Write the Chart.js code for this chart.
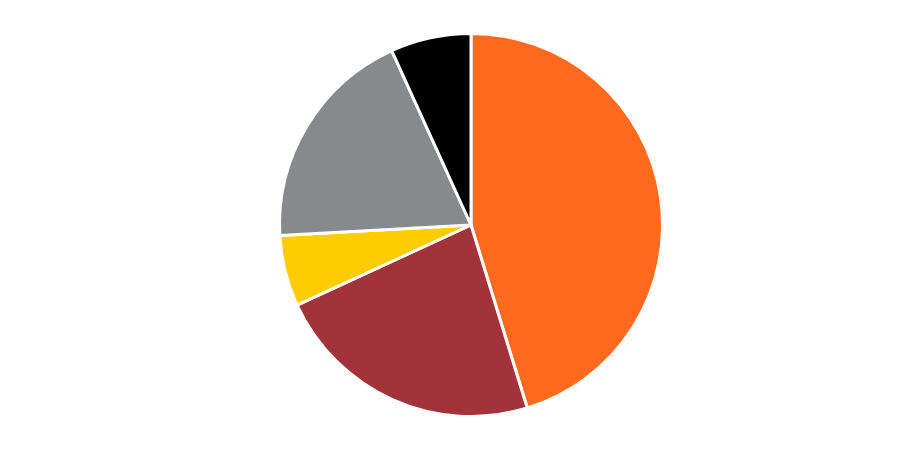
<!DOCTYPE html>
<html>
<head>
<meta charset="utf-8">
<script src="https://cdn.jsdelivr.net/npm/chart.js@4"></script>
<style>
html,body{margin:0;padding:0;background:#fff;}
#wrap{width:901px;height:450px;position:relative;}
</style>
</head>
<body>
<div id="wrap"><canvas id="c"></canvas></div>
<script>
const labels = ["A", "B", "C", "D", "E"];
const values = [45.3, 22.9, 6.0, 19.1, 6.8];
const colors = ["#FF6A1F", "#A3333A", "#FFCC00", "#878A8C", "#000000"];

new Chart(document.getElementById('c'), {
  type: 'pie',
  data: {
    labels: labels,
    datasets: [{
      data: values,
      backgroundColor: colors,
      borderColor: '#ffffff',
      borderWidth: 3
    }]
  },
  options: {
    responsive: true,
    maintainAspectRatio: false,
    animation: false,
    layout: { padding: { top: 32, bottom: 32, left: 41, right: 0 } },
    plugins: { legend: { display: false }, tooltip: { enabled: false } }
  }
});
</script>
</body>
</html>
